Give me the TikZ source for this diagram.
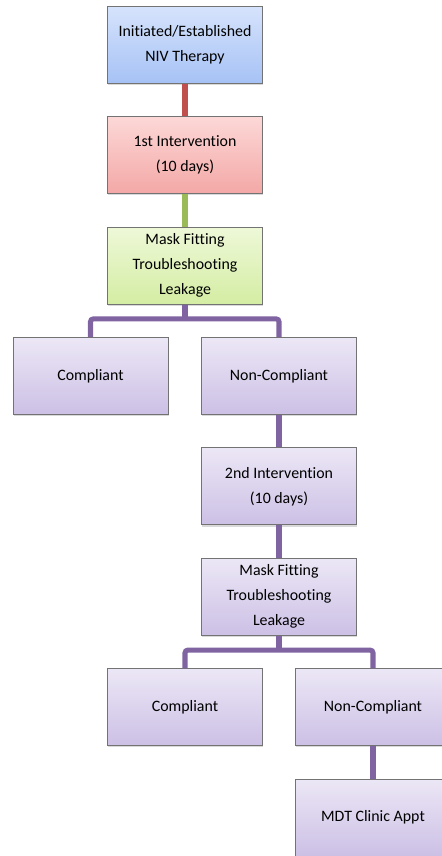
\documentclass[tikz,border=0pt]{standalone}
\usepackage{fontspec}
\setmainfont{Carlito}[Ligatures=NoCommon]
\usetikzlibrary{shadows}

\definecolor{blue-top}{RGB}{214,227,252}
\definecolor{blue-bot}{RGB}{166,194,245}
\definecolor{red-top}{RGB}{252,216,215}
\definecolor{red-bot}{RGB}{243,168,166}
\definecolor{green-top}{RGB}{238,248,216}
\definecolor{green-bot}{RGB}{212,237,163}
\definecolor{purple-top}{RGB}{236,231,246}
\definecolor{purple-bot}{RGB}{204,192,229}
\definecolor{link-red}{RGB}{192,80,77}
\definecolor{link-green}{RGB}{155,187,89}
\definecolor{link-purple}{RGB}{128,100,162}

\begin{document}
\begin{tikzpicture}[x=1cm,y=1cm,
    box/.style={draw=black!55,line width=0.6pt,
        minimum width=3.875cm,minimum height=1.925cm,
        align=center,inner sep=2pt,
        font=\fontsize{11.3}{17.8}\selectfont,
        drop shadow={shadow xshift=0.5pt,shadow yshift=-1.2pt,opacity=0.3}},
    bluebox/.style={box,top color=blue-top,bottom color=blue-bot},
    redbox/.style={box,top color=red-top,bottom color=red-bot},
    greenbox/.style={box,top color=green-top,bottom color=green-bot},
    purplebox/.style={box,top color=purple-top,bottom color=purple-bot},
    link/.style={line width=3.6pt},
    tree/.style={link,draw=link-purple,rounded corners=2pt}]
    \useasboundingbox (0,0) rectangle (11.025,21.40);

    \node[bluebox] (niv-start) at (4.625,20.28)
        {Initiated/Established\\NIV Therapy};
    \node[redbox] (first-int) at (4.625,17.52)
        {1st Intervention\\(10 days)};
    \node[greenbox] (fitting-one) at (4.625,14.76)
        {Mask Fitting\\Troubleshooting\\Leakage};
    \node[purplebox] (compliant-one) at (2.2625,12.00) {Compliant};
    \node[purplebox] (noncompliant-one) at (6.975,12.00) {Non-Compliant};
    \node[purplebox] (second-int) at (6.975,9.24)
        {2nd Intervention\\(10 days)};
    \node[purplebox] (fitting-two) at (6.975,6.48)
        {Mask Fitting\\Troubleshooting\\Leakage};
    \node[purplebox] (compliant-two) at (4.625,3.72) {Compliant};
    \node[purplebox] (noncompliant-two) at (9.325,3.72) {Non-Compliant};
    \node[purplebox] (mdt-clinic) at (9.325,0.96) {MDT Clinic Appt};

    \draw[link,draw=link-red] (niv-start) -- (first-int);
    \draw[link,draw=link-green] (first-int) -- (fitting-one);

    \path (fitting-one.south) ++(0,-0.36) coordinate (split-one);
    \draw[link,draw=link-purple] (fitting-one) -- (split-one);
    \draw[tree] (compliant-one.north) |- (split-one)
        -| (noncompliant-one.north);

    \draw[link,draw=link-purple] (noncompliant-one) -- (second-int);
    \draw[link,draw=link-purple] (second-int) -- (fitting-two);

    \path (fitting-two.south) ++(0,-0.36) coordinate (split-two);
    \draw[link,draw=link-purple] (fitting-two) -- (split-two);
    \draw[tree] (compliant-two.north) |- (split-two)
        -| (noncompliant-two.north);

    \draw[link,draw=link-purple] (noncompliant-two) -- (mdt-clinic);
\end{tikzpicture}
\end{document}
